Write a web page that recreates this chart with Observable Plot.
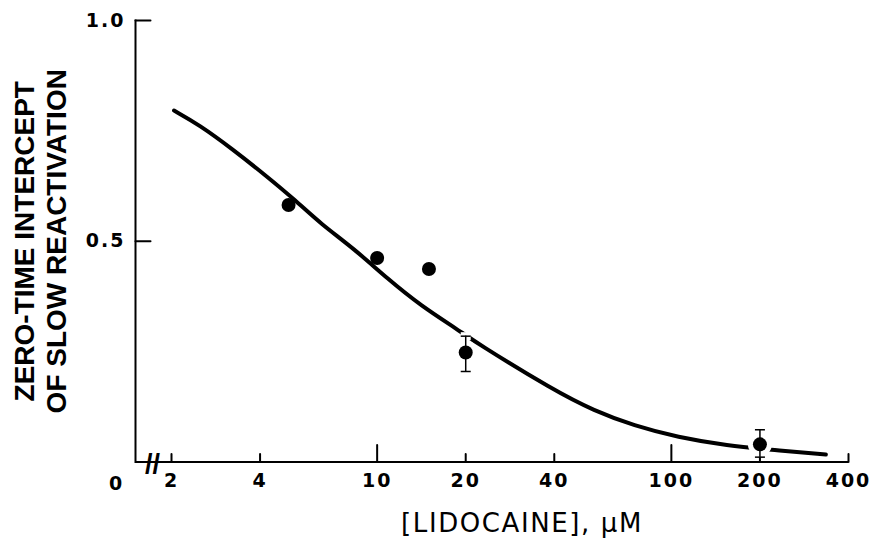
<!DOCTYPE html>
<html>
<head>
<meta charset="utf-8">
<script src="https://cdn.jsdelivr.net/npm/d3@7"></script>
<script src="https://cdn.jsdelivr.net/npm/@observablehq/plot@0.6"></script>
<style>
  html, body { margin: 0; padding: 0; background: #fff; }
</style>
</head>
<body>
<div id="chart"></div>
<script>
// ---- data ----
const pointConc  = [5, 10, 15, 20, 200];
const pointValue = [0.582, 0.462, 0.437, 0.248, 0.040];

const errConc = [20, 200];
const errLow  = [0.205, 0.011];
const errHigh = [0.285, 0.073];

const curveConc  = [2.04, 2.48, 3.22, 4.18, 5.29, 6.44, 8.35, 10.85, 14.08, 19.0, 21.6, 39.9, 54.6, 74.7, 105, 155, 223, 335];
const curveValue = [0.796, 0.764, 0.709, 0.649, 0.592, 0.539, 0.483, 0.415, 0.354, 0.298, 0.271, 0.162, 0.116, 0.082, 0.056, 0.037, 0.027, 0.017];

const xTickLabels = [2, 4, 10, 20, 40, 100, 200, 400];
const xMajorTicks = [10, 100];
const xMinorTicks = [2, 4, 20, 40, 200, 400];
const yTicks = [0.5, 1.0];
const yTickLabels = ["0.5", "1.0"];
const originLabel = ["0"];
const breakMark = ["//"];
const yTitleLines = ["ZERO-TIME INTERCEPT", "OF SLOW REACTIVATION"];
const xTitle = ["[LIDOCAINE], \u03BCM"];

// ---- tables ----
const points = pointConc.map((c, i) => ({conc: c, value: pointValue[i]}));
const errors = errConc.map((c, i) => ({
  conc: c, lo: errLow[i], hi: errHigh[i], value: pointValue[pointConc.indexOf(c)]
}));
const curve = curveConc.map((c, i) => ({conc: c, value: curveValue[i]}));

const cap = {
  draw(context, size) {
    const w = Math.sqrt(size / Math.PI);
    context.moveTo(-w, 0);
    context.lineTo(w, 0);
  }
};
// inward tick: drawn "up" from the anchor, rotated by the vector mark
const tickLine = {
  draw(context, l) {
    context.moveTo(0, 0);
    context.lineTo(0, -l);
  }
};

const font = "'DejaVu Sans', 'Liberation Sans', Arial, sans-serif";
const titleFont = "'Liberation Sans', Arial, Helvetica, sans-serif";

const chart = Plot.plot({
  width: 877,
  height: 543,
  marginLeft: 135,
  marginRight: 29,
  marginTop: 20,
  marginBottom: 81.5,
  style: {fontFamily: font, color: "black", background: "white", overflow: "visible"},
  x: {type: "log", domain: [2, 400], range: [171, 848]},
  y: {domain: [0, 1]},
  marks: [
    // axis lines
    Plot.frame({anchor: "left", strokeWidth: 2}),
    Plot.ruleY([0], {strokeWidth: 2}),
    // inward ticks
    Plot.vector(xMinorTicks, {x: d => d, frameAnchor: "bottom", length: 8, anchor: "start", shape: tickLine, strokeWidth: 2}),
    Plot.vector(xMajorTicks, {x: d => d, frameAnchor: "bottom", length: 17, anchor: "start", shape: tickLine, strokeWidth: 2}),
    Plot.vector(yTicks, {y: d => d, frameAnchor: "left", rotate: 90, length: 15, anchor: "start", shape: tickLine, strokeWidth: 2}),
    // tick labels
    Plot.axisX(xTickLabels, {tickSize: 0, tickPadding: 11, fontSize: 19, fontWeight: "bold", tickFormat: d => String(d), label: null}),
    Plot.axisY(yTicks, {tickSize: 0, tickPadding: 10, fontSize: 19, fontWeight: "bold", tickFormat: (d, i) => yTickLabels[i], label: null}),
    Plot.text(originLabel, {frameAnchor: "bottom-left", text: d => d, dx: -20, dy: 22, fontSize: 19, fontWeight: "bold", textAnchor: "middle", lineAnchor: "middle"}),
    // axis break
    Plot.text(breakMark, {frameAnchor: "bottom-left", text: d => d, dx: 17, dy: 2, fontSize: 27, fontWeight: "bold", fontFamily: titleFont, textAnchor: "middle", lineAnchor: "middle"}),
    // titles
    Plot.text([yTitleLines.join("\n")], {frameAnchor: "left", text: d => d, rotate: -90, dx: -96, fontSize: 28, fontWeight: "bold", fontFamily: titleFont, lineHeight: 1.14, textAnchor: "middle", lineAnchor: "middle"}),
    Plot.text(xTitle, {frameAnchor: "bottom", text: d => d, dx: 30, dy: 62, fontSize: 26, textAnchor: "middle", lineAnchor: "middle"}),
    // fitted curve
    Plot.line(curve, {x: "conc", y: "value", curve: "basis", strokeWidth: 4, strokeLinecap: "round"}),
    // white gaps around error-bar points
    Plot.ruleX(errors, {x: "conc", y1: "lo", y2: "hi", stroke: "white", strokeWidth: 7}),
    Plot.dot(errors, {x: "conc", y: "hi", symbol: cap, r: 5, stroke: "white", strokeWidth: 8, fill: "none"}),
    Plot.dot(errors, {x: "conc", y: "value", r: 7, fill: "white", stroke: "white", strokeWidth: 10}),
    // error bars
    Plot.ruleX(errors, {x: "conc", y1: "lo", y2: "hi", stroke: "black", strokeWidth: 1.5}),
    Plot.dot(errors, {x: "conc", y: "hi", symbol: cap, r: 5, stroke: "black", strokeWidth: 1.5, fill: "none"}),
    Plot.dot(errors, {x: "conc", y: "lo", symbol: cap, r: 5, stroke: "black", strokeWidth: 1.5, fill: "none"}),
    // data points
    Plot.dot(points, {x: "conc", y: "value", r: 7, fill: "black", stroke: "none"})
  ]
});

// wider hand-lettered spacing
d3.select(chart).selectAll("g[aria-label='x-axis tick label'] text, g[aria-label='y-axis tick label'] text")
  .attr("letter-spacing", "2px");
d3.select(chart).selectAll("text")
  .filter(function () { return this.textContent === xTitle[0]; })
  .attr("letter-spacing", "1.6px");

document.getElementById("chart").appendChild(chart);
</script>
</body>
</html>
